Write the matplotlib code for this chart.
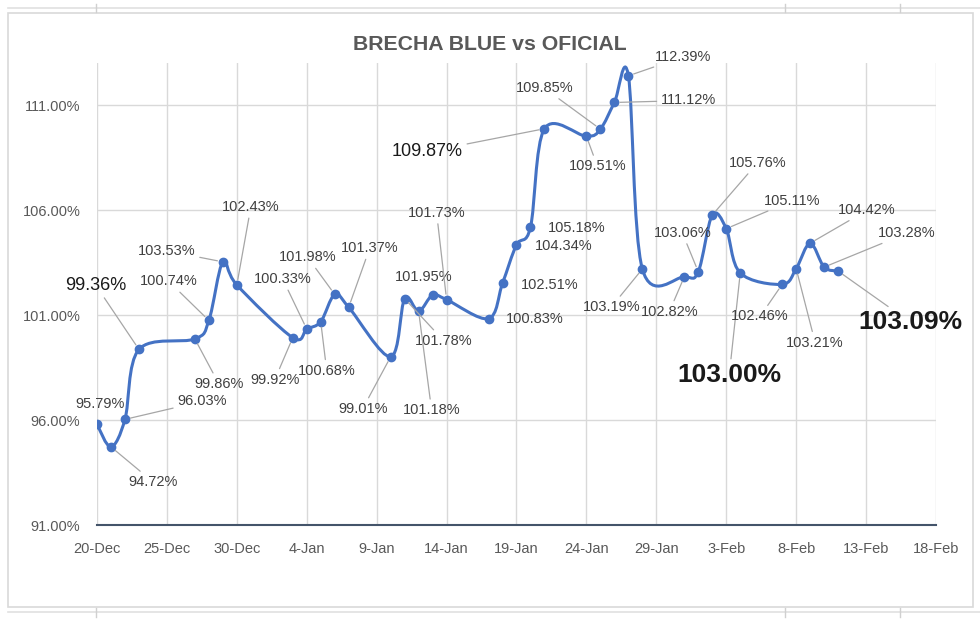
import datetime as dt
import matplotlib
matplotlib.use("Agg")
import matplotlib.pyplot as plt
import matplotlib.dates as mdates
from matplotlib.path import Path
from matplotlib.patches import PathPatch, Rectangle
from matplotlib.lines import Line2D
from matplotlib.ticker import FuncFormatter, FixedLocator

plt.rcParams['font.family'] = ['Liberation Sans', 'DejaVu Sans']

# ---- data ----
fechas = ['2021-12-20', '2021-12-21', '2021-12-22', '2021-12-23', '2021-12-27',
          '2021-12-28', '2021-12-29', '2021-12-30', '2022-01-03', '2022-01-04',
          '2022-01-05', '2022-01-06', '2022-01-07', '2022-01-10', '2022-01-11',
          '2022-01-12', '2022-01-13', '2022-01-14', '2022-01-17', '2022-01-18',
          '2022-01-19', '2022-01-20', '2022-01-21', '2022-01-24', '2022-01-25',
          '2022-01-26', '2022-01-27', '2022-01-28', '2022-01-31', '2022-02-01',
          '2022-02-02', '2022-02-03', '2022-02-04', '2022-02-07', '2022-02-08',
          '2022-02-09', '2022-02-10', '2022-02-11']
brecha = [95.79, 94.72, 96.03, 99.36, 99.86,
          100.74, 103.53, 102.43, 99.92, 100.33,
          100.68, 101.98, 101.37, 99.01, 101.78,
          101.18, 101.95, 101.73, 100.83, 102.51,
          104.34, 105.18, 109.87, 109.51, 109.85,
          111.12, 112.39, 103.19, 102.82, 103.06,
          105.76, 105.11, 103.00, 102.46, 103.21,
          104.42, 103.28, 103.09]
yticks = [91, 96, 101, 106, 111]
titulo = 'BRECHA BLUE vs OFICIAL'

# ---- label placement (pixel offsets from the point), leader on/off, style ----
lab_dx = [3, 42, 77, -43, 24, -40, -56, 14, -18, -24,
          6, -27, 21, -28, 39, 13, -9, -10, 46, 47,
          47, 46, -117, 11, -56, 74, 55, -31, -15, -16,
          45, 66, -11, -22, 19, 57, 83, 72]
lab_dy = [20, -35, 18, 64, -45, 39, 11, 78, -42, 50,
          -49, 37, 59, -52, -42, -99, 18, 87, 0, -2,
          -1, -1, -23, -30, 41, 2, 19, -38, -35, 39,
          52, 28, -102, -32, -74, 33, 34, -51]
sin_guia = [0, 16, 18, 19, 20, 21]
grandes = {3: (13, 'normal'), 22: (13, 'normal'), 32: (19, 'bold'), 37: (19, 'bold')}

x = mdates.date2num([dt.datetime.strptime(f, '%Y-%m-%d') for f in fechas])

fig = plt.figure(figsize=(9.8, 6.21), dpi=100)
W, H = 980, 621
ax = fig.add_axes([97 / W, 1 - 525 / H, (936 - 97) / W, (525 - 63) / H])

# smooth line (Excel style bezier through the points)
verts = [(x[0], brecha[0])]
codes = [Path.MOVETO]
n = len(x)
for i in range(n - 1):
    p0 = (x[i - 1], brecha[i - 1]) if i > 0 else (x[i], brecha[i])
    p1 = (x[i], brecha[i])
    p2 = (x[i + 1], brecha[i + 1])
    p3 = (x[i + 2], brecha[i + 2]) if i + 2 < n else p2
    c1 = (p1[0] + (p2[0] - p0[0]) / 6, p1[1] + (p2[1] - p0[1]) / 6)
    c2 = (p2[0] - (p3[0] - p1[0]) / 6, p2[1] - (p3[1] - p1[1]) / 6)
    verts += [c1, c2, p2]
    codes += [Path.CURVE4] * 3
ax.add_patch(PathPatch(Path(verts, codes), fill=False, edgecolor='#4472C4',
                       lw=2.2, capstyle='round', joinstyle='round', zorder=3))
ax.plot(x, brecha, 'o', color='#4472C4', ms=6, zorder=4)

# data labels
for i, v in enumerate(brecha):
    size, weight = grandes.get(i, (10.5, 'normal'))
    color = '#1a1a1a' if i in grandes else '#404040'
    props = None
    if i not in sin_guia:
        props = dict(arrowstyle='-', color='#A6A6A6', lw=0.9, shrinkA=1, shrinkB=4)
    ax.annotate(f'{v:.2f}%', (x[i], v), xytext=(lab_dx[i], lab_dy[i]),
                textcoords='offset pixels', ha='center', va='center',
                fontsize=size, fontweight=weight, color=color,
                arrowprops=props, zorder=5)

# axes
start = mdates.date2num(dt.datetime(2021, 12, 20))
xt = [start + 5 * k for k in range(13)]
ax.set_xlim(xt[0], xt[-1])
ax.set_ylim(91, 113)
ax.xaxis.set_major_locator(FixedLocator(xt))
ax.xaxis.set_major_formatter(FuncFormatter(
    lambda v, p: f"{mdates.num2date(v).day}-{mdates.num2date(v).strftime('%b')}"))
ax.yaxis.set_major_locator(FixedLocator(yticks))
ax.yaxis.set_major_formatter(FuncFormatter(lambda v, p: f'{v:.2f}%'))
ax.tick_params(length=0, labelsize=10.5, labelcolor='#595959')
ax.tick_params(axis='x', pad=12)
ax.tick_params(axis='y', pad=12)
ax.grid(True, color='#D9D9D9', lw=1)
ax.set_axisbelow(True)
for s in ['top', 'right', 'left']:
    ax.spines[s].set_visible(False)
ax.spines['bottom'].set_color('#44546A')
ax.spines['bottom'].set_linewidth(1.5)
ax.spines['bottom'].set_zorder(2)

fig.text(490 / W, 1 - 44 / H, titulo, ha='center', va='center',
         fontsize=15.3, fontweight='bold', color='#595959')

# chart frame and sheet lines
fig.add_artist(Rectangle((8 / W, 1 - 607 / H), (973 - 8) / W, (607 - 13) / H,
                         transform=fig.transFigure, fill=False,
                         edgecolor='#D9D9D9', lw=1.2))
for yy in [8, 612]:
    fig.add_artist(Line2D([8 / W, 1], [1 - yy / H] * 2, transform=fig.transFigure,
                          color='#E0E0E0', lw=1.2))
for xx in [96, 785, 900]:
    fig.add_artist(Line2D([xx / W] * 2, [1 - 4 / H, 1 - 12 / H],
                          transform=fig.transFigure, color='#D0D0D0', lw=1))
    fig.add_artist(Line2D([xx / W] * 2, [1 - 608 / H, 1 - 617 / H],
                          transform=fig.transFigure, color='#D0D0D0', lw=1))

fig.savefig('out.png', dpi=100)
